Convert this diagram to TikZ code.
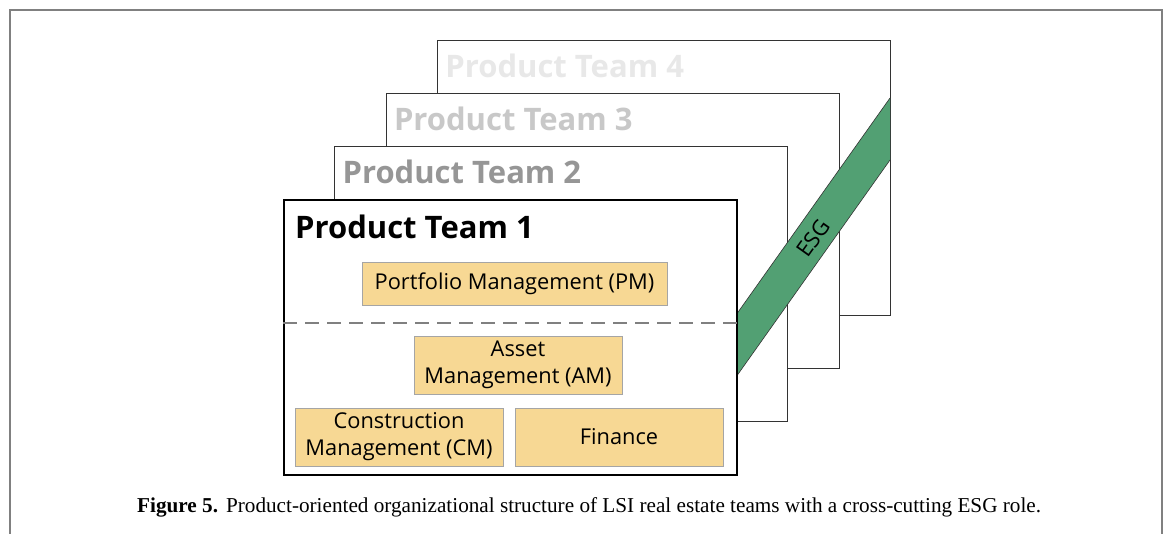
\documentclass[tikz,border=0pt]{standalone}
\usepackage{fontspec}
\usepackage{xcolor}
\usepackage{tikz}
\setmainfont{Liberation Serif}
\newfontfamily\segoe{Open Sans}
\usetikzlibrary{positioning}

\definecolor{esggreen}{RGB}{82,160,115}
\definecolor{unitfill}{RGB}{247,216,148}
\definecolor{unitline}{RGB}{165,165,165}
\definecolor{teamA}{RGB}{0,0,0}
\definecolor{teamB}{RGB}{150,150,150}
\definecolor{teamC}{RGB}{200,200,200}
\definecolor{teamD}{RGB}{232,232,232}

\tikzset{
	panel/.style={draw=black!80, line width=1pt, fill=white, inner sep=0pt,
		minimum width=453pt, minimum height=275pt, anchor=north west},
	title/.style={anchor=base west, inner sep=0pt,
		font=\segoe\bfseries\fontsize{31}{36}\selectfont},
	unit/.style={draw=unitline, line width=0.9pt, fill=unitfill, align=center,
		inner sep=0pt, font=\segoe\fontsize{21.8}{27}\selectfont}
}

\begin{document}
\begin{tikzpicture}[x=1pt,y=-1pt]
			\useasboundingbox (0,0) rectangle (1166,533);
			% Khung ngoài
			\draw [black!50, line width=2pt] (10,545) -- (10,10) -- (1162,10) -- (1162,545);
			% Các nhóm phía sau
			\foreach \i/\c in {4/teamD,3/teamC,2/teamB}
			{
				\node [panel] (team\i) at ({283+(\i-1)*51.4},{199-(\i-1)*53}) {};
				\node [title, text=\c] (title\i) at ([xshift=8pt,yshift=-37pt]team\i.north west) {Product Team \i};
			}
			% Dải ESG
			\fill [esggreen] (736,315) -- (890,98) -- (890,160) -- (736,377) -- cycle;
			\draw [black!80, line width=0.6pt] (736,315) -- (890,98);
			\draw [black!80, line width=0.6pt] (736,377) -- (890,160);
			\node [rotate=54.6, inner sep=0pt, font=\segoe\fontsize{22}{24}\selectfont] (esg) at (813,238) {ESG};
			% Nhóm 1
			\node [panel, draw=black, line width=2pt] (team1) at (283,199) {};
			\node [title, text=teamA] (title1) at ([xshift=12pt,yshift=-39pt]team1.north west) {Product Team 1};
			\coordinate (split) at (0,323);
			\draw [black!50, line width=1.6pt, dash pattern=on 14pt off 8pt] (team1.west |- split) -- (team1.east |- split);
			% Các bộ phận
			\node [unit, minimum width=305pt, minimum height=43pt] (pm) at (514.5,283.5) {Portfolio Management (PM)};
			\node [unit, minimum width=208pt, minimum height=58pt] (am) at (518,365) {Asset\\Management (AM)};
			\node [unit, minimum width=208pt, minimum height=58pt] (cm) at (399,437) {Construction\\Management (CM)};
			\node [unit, minimum width=208pt, minimum height=58pt] (fin) at (619,437) {Finance};
			% Chú thích
			\node [anchor=base west, inner sep=0pt, font=\fontsize{21.2}{24}\selectfont] (caption) at (137,512)
				{\textbf{Figure 5.}\hspace{8pt}Product-oriented organizational structure of LSI real estate teams with a cross-cutting ESG role.};
\end{tikzpicture}
\end{document}
